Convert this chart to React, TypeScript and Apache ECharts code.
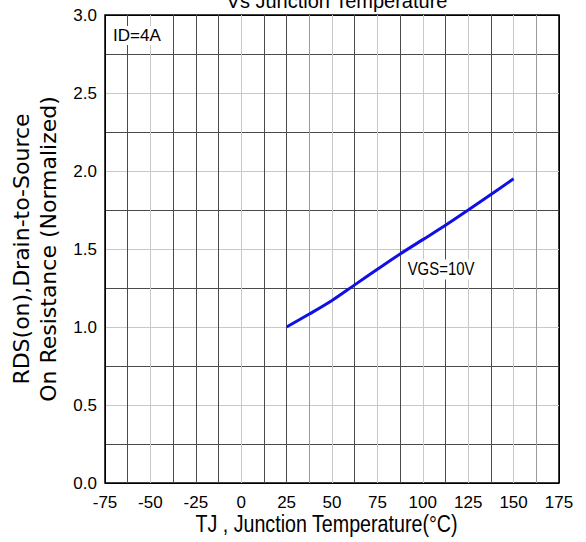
import React, { useEffect, useRef } from "react";
import * as echarts from "echarts";

const temps = [25, 37.5, 50, 62.5, 75, 87.5, 100, 112.5, 125, 137.5, 150];
const rdsOn = [1.0, 1.083, 1.17, 1.27, 1.37, 1.468, 1.56, 1.652, 1.75, 1.85, 1.95];
const xTickLabels = ["-75", "-50", "-25", "0", "25", "50", "75", "100", "125", "150", "175"];
const yTickLabels = ["0.0", "0.5", "1.0", "1.5", "2.0", "2.5", "3.0"];
const titleText = "Vs Junction Temperature";
const xName = "TJ , Junction Temperature(°C)";
const yName = "RDS(on),Drain-to-Source\nOn Resistance (Normalized)";
const idNote = "ID=4A";
const seriesLabel = "VGS=10V";

const D = "#4a4a4a";
const L = "#c8c8c8";
const M = "#9a9a9a";
const K = "#000000";
const xGridColors = [K, D, L, D, D, D, L, D, D, M, L, D, L, D, L, D, L, D, L, M, K];
const yGridColors = [K, D, L, D, L, D, L, D, L, D, L, D, K];

const sans = "'Liberation Sans', Arial, sans-serif";

export default function App() {
  const ref = useRef<HTMLDivElement>(null);
  useEffect(() => {
    if (!ref.current) return;
    const chart = echarts.init(ref.current, null, { renderer: "svg" });
    const data = temps.map((t, i) => [t, rdsOn[i]]);
    chart.setOption({
      animation: false,
      backgroundColor: "#fff",
      title: {
        text: titleText,
        left: 332,
        textAlign: "center",
        top: -14,
        textStyle: { fontFamily: sans, fontSize: 20, fontWeight: "normal", color: "#000" },
      },
      grid: {
        left: 105,
        right: 27,
        top: 15,
        bottom: 59,
        show: true,
        borderColor: "#000",
        borderWidth: 1.5,
        backgroundColor: "transparent",
      },
      xAxis: {
        type: "value",
        min: -75,
        max: 175,
        interval: 12.5,
        axisLine: { show: false },
        axisTick: { show: false },
        axisLabel: {
          margin: 11,
          fontFamily: sans,
          fontSize: 17,
          color: "#000",
          formatter: (v: number) => {
            const i = Math.round((v + 75) / 25);
            return Math.abs(v % 25) < 1e-6 ? xTickLabels[i] : "";
          },
        },
        splitLine: { show: true, lineStyle: { color: xGridColors, width: 1 } },
      },
      yAxis: {
        type: "value",
        min: 0,
        max: 3,
        interval: 0.25,
        name: yName,
        nameLocation: "middle",
        nameRotate: 90,
        nameGap: 41,
        nameTextStyle: { fontFamily: "'DejaVu Sans', sans-serif", fontSize: 22, lineHeight: 27, color: "#000" },
        axisLine: { show: false },
        axisTick: { show: false },
        axisLabel: {
          margin: 8,
          fontFamily: sans,
          fontSize: 17,
          color: "#000",
          formatter: (v: number) => {
            const r = v * 2;
            return Math.abs(r - Math.round(r)) < 1e-6 ? yTickLabels[Math.round(r)] : "";
          },
        },
        splitLine: { show: true, lineStyle: { color: yGridColors, width: 1 } },
      },
      series: [
        {
          type: "line",
          data,
          showSymbol: false,
          smooth: 0.3,
          lineStyle: { color: "#1010e6", width: 3 },
          z: 3,
        },
      ],
      graphic: [
        {
          type: "text",
          x: 112,
          y: 35.5,
          z: 10,
          style: {
            text: idNote,
            fontFamily: sans,
            fontSize: 17,
            fill: "#000",
            verticalAlign: "middle",
            align: "left",
            backgroundColor: "#fff",
            padding: [1, 1],
          },
        },
        {
          type: "text",
          x: 406,
          y: 269.5,
          scaleX: 0.83,
          z: 10,
          style: {
            text: seriesLabel,
            fontFamily: sans,
            fontSize: 18,
            fill: "#000",
            verticalAlign: "middle",
            align: "left",
            backgroundColor: "#fff",
            padding: [1, 2],
          },
        },
        {
          type: "text",
          x: 326.5,
          y: 524,
          scaleX: 0.82,
          z: 10,
          style: {
            text: xName,
            fontFamily: sans,
            fontSize: 24,
            fill: "#000",
            verticalAlign: "middle",
            align: "center",
          },
        },
      ],
    });
    return () => chart.dispose();
  }, []);
  return (
    <div
      ref={ref}
      style={{ position: "fixed", left: 0, top: 0, width: 586, height: 542 }}
    />
  );
}
